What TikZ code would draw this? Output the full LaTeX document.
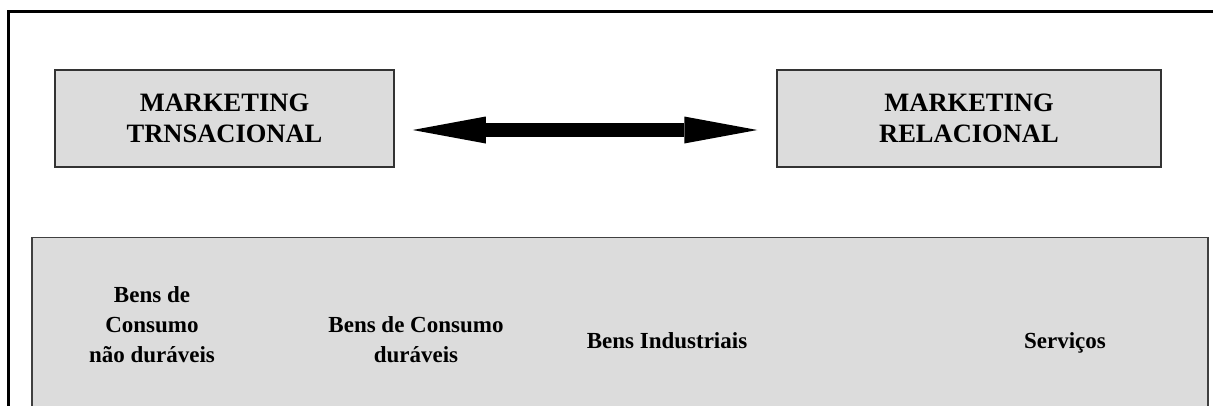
\documentclass[tikz,border=0pt]{standalone}
\usepackage{fontspec}
\setmainfont{Liberation Serif}
\usetikzlibrary{arrows.meta}
\definecolor{boxgray}{RGB}{220,220,220}
\begin{document}
\begin{tikzpicture}[x=1pt,y=-1pt]
	\def \boxrow{118.5}
	\def \arrowrow{130}
	\def \catrow{362.5}
	\def \panelht{237.5}
	\tikzstyle{m-box}=[rectangle,draw=black!80,line width=1.5pt,fill=boxgray,inner sep=0pt,minimum height=97pt,align=center,font=\bfseries\fontsize{26.5}{31}\selectfont]
	\tikzstyle{cat}=[align=center,anchor=base,inner sep=0pt,font=\bfseries\fontsize{23}{30}\selectfont]
	\tikzstyle{big-arrow}=[line width=14pt,{Triangle[length=73pt,width=27pt,line width=0pt]}-{Triangle[length=73pt,width=27pt,line width=0pt]}]

	\useasboundingbox (0,0) rectangle (1213,405);
	\clip (0,0) rectangle (1213,405);

	% frame
	\draw[line width=3pt] (8,420) -- (8,11) -- (1220,11);
	% panel
	\draw[fill=boxgray,draw=black!75,line width=1.3pt] (32,420) -- (32,\panelht) -- (1208,\panelht) -- (1208,420);

	% marketing boxes
	\node[m-box,minimum width=339pt] (trans) at (224.5,\boxrow) {MARKETING\\TRNSACIONAL};
	\node[m-box,minimum width=384pt] (rel)   at (969,\boxrow)   {MARKETING\\RELACIONAL};

	% categories
	\node[cat] (bens-nd)  at (152,\catrow)  {Bens de\\Consumo\\não duráveis};
	\node[cat] (bens-d)   at (416,\catrow)  {Bens de Consumo\\duráveis};
	\node[cat] (bens-ind) at (667,348)      {Bens Industriais};
	\node[cat] (serv)     at (1065,348)     {Serviços};

	\coordinate (mid) at (0,\arrowrow);
	\draw[big-arrow,shorten <=18pt,shorten >=19pt] (trans.east |- mid) -- (rel.west |- mid);
\end{tikzpicture}
\end{document}
